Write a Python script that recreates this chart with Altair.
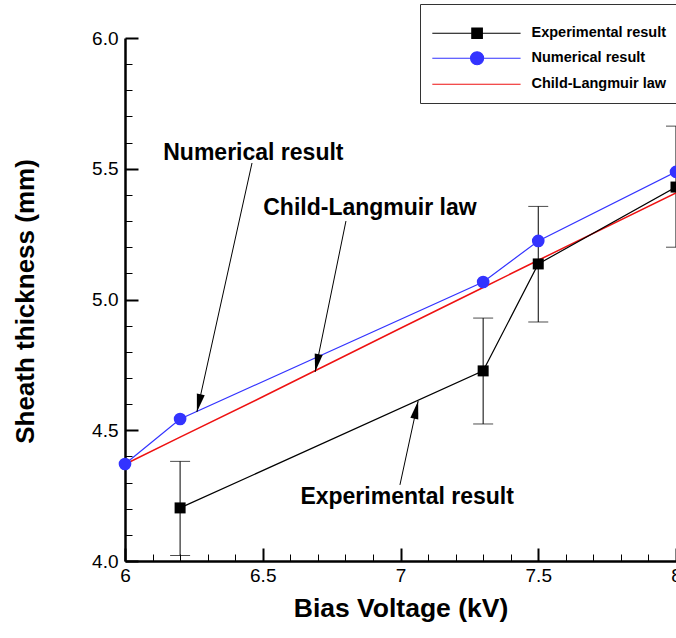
import math
import altair as alt
import pandas as pd

# ---------------- data ----------------
exp_v = [6.2, 7.3, 7.5, 8.0]
exp_s = [4.203, 4.727, 5.136, 5.430]
exp_lo = [4.021, 4.524, 4.914, 5.200]
exp_hi = [4.381, 4.929, 5.356, 5.663]

num_v = [6.0, 6.2, 7.3, 7.5, 8.0]
num_s = [4.371, 4.543, 5.067, 5.224, 5.488]

cl_v = [6.0, 6.2, 6.5, 7.0, 7.3, 7.5, 8.0]
cl_s = [4.370, 4.474, 4.628, 4.890, 5.046, 5.150, 5.408]

series = ["Experimental result", "Numerical result", "Child-Langmuir law"]
colors = ["#000000", "#3333ff", "#ee1111"]

ann_text = ["Numerical result", "Child-Langmuir law", "Experimental result"]
ann_x = [6.466, 6.889, 7.024]
ann_y = [5.533, 5.323, 4.218]
arr_x1 = [6.461, 6.802, 6.998]
arr_y1 = [5.522, 5.300, 4.291]
arr_x2 = [6.261, 6.690, 7.064]
arr_y2 = [4.570, 4.723, 4.612]

x_major = [6.0, 6.5, 7.0, 7.5, 8.0]
x_minor = [6.1, 6.2, 6.3, 6.4, 6.6, 6.7, 6.8, 6.9, 7.1, 7.2, 7.3, 7.4, 7.6, 7.7, 7.8, 7.9]
y_major = [4.0, 4.5, 5.0, 5.5, 6.0]
y_minor = [4.1, 4.2, 4.3, 4.4, 4.6, 4.7, 4.8, 4.9, 5.1, 5.2, 5.3, 5.4, 5.6, 5.7, 5.8, 5.9]

# ---------------- layout ----------------
W, H = 551, 523
FONT = "Liberation Sans"

exp_df = pd.DataFrame({"v": exp_v, "s": exp_s, "lo": exp_lo, "hi": exp_hi})
num_df = pd.DataFrame({"v": num_v, "s": num_s})
cl_df = pd.DataFrame({"v": cl_v, "s": cl_s})


def angle(x1, y1, x2, y2):
    dx = (x2 - x1) * W / 2.0
    dy_up = (y2 - y1) * H / 2.0
    return math.degrees(math.atan2(dx, dy_up)) % 360


ann_df = pd.DataFrame({
    "text": ann_text, "tx": ann_x, "ty": ann_y,
    "x1": arr_x1, "y1": arr_y1, "x2": arr_x2, "y2": arr_y2,
    "ang": [angle(a, b, c, d) for a, b, c, d in zip(arr_x1, arr_y1, arr_x2, arr_y2)],
})

xs = alt.Scale(domain=[6, 8], nice=False, zero=False)
ys = alt.Scale(domain=[4, 6], nice=False, zero=False)

# axes with labels, domain and titles (no ticks)
label_x_axis = alt.Axis(
    values=x_major, format="~g", orient="bottom", ticks=False,
    domainWidth=2.5, domainColor="black",
    labelFont=FONT, labelFontSize=19, labelColor="black", labelPadding=5,
    labelFlush=False, grid=False,
    title="Bias Voltage (kV)", titleFont=FONT, titleFontSize=26.5,
    titleFontWeight="bold", titleColor="black",
    titleX=W / 2, titleY=55, titleBaseline="alphabetic", titleAlign="center",
)
label_y_axis = alt.Axis(
    values=y_major, format=".1f", orient="left", ticks=False,
    domainWidth=2.5, domainColor="black",
    labelFont=FONT, labelFontSize=19, labelColor="black", labelPadding=7,
    labelFlush=False, grid=False,
    title="Sheath thickness (mm)", titleFont=FONT, titleFontSize=26,
    titleFontWeight="bold", titleColor="black",
    titleX=-92, titleY=263, titleBaseline="alphabetic", titleAlign="center", titleAngle=270,
)
# inward major ticks
major_x_axis = alt.Axis(
    values=x_major, orient="bottom", tickSize=alt.ExprRef("-13"), tickWidth=2,
    tickColor="black", labels=False, domain=False, grid=False, title=None,
)
major_y_axis = alt.Axis(
    values=y_major, orient="left", tickSize=alt.ExprRef("-13"), tickWidth=2,
    tickColor="black", labels=False, domain=False, grid=False, title=None,
)
# inward minor ticks
minor_x_axis = alt.Axis(
    values=x_minor, orient="bottom", tickSize=alt.ExprRef("-7"), tickWidth=1,
    tickColor="black", labels=False, domain=False, grid=False, title=None,
)
minor_y_axis = alt.Axis(
    values=y_minor, orient="left", tickSize=alt.ExprRef("-7"), tickWidth=1,
    tickColor="black", labels=False, domain=False, grid=False, title=None,
)

# red Child-Langmuir line (carries the labelled axes)
cl_line = alt.Chart(cl_df).mark_line(color=colors[2], strokeWidth=1.5).encode(
    x=alt.X("v:Q", scale=xs, axis=label_x_axis),
    y=alt.Y("s:Q", scale=ys, axis=label_y_axis),
)

# error bars (carries the minor tick axes)
err_rule = alt.Chart(exp_df).mark_rule(color="black", strokeWidth=1).encode(
    x=alt.X("v:Q", scale=xs, axis=minor_x_axis),
    y=alt.Y("lo:Q", scale=ys, axis=minor_y_axis),
    y2="hi:Q",
)
cap_lo = alt.Chart(exp_df).mark_tick(color="black", orient="horizontal", size=20, thickness=1).encode(
    x=alt.X("v:Q", scale=xs, axis=None),
    y=alt.Y("lo:Q", scale=ys, axis=None),
)
cap_hi = alt.Chart(exp_df).mark_tick(color="black", orient="horizontal", size=20, thickness=1).encode(
    x=alt.X("v:Q", scale=xs, axis=None),
    y=alt.Y("hi:Q", scale=ys, axis=None),
)

# experimental line (carries the major tick axes)
exp_line = alt.Chart(exp_df).mark_line(color="black", strokeWidth=1.2).encode(
    x=alt.X("v:Q", scale=xs, axis=major_x_axis),
    y=alt.Y("s:Q", scale=ys, axis=major_y_axis),
)
exp_pts = alt.Chart(exp_df).mark_point(shape="square", filled=True, color="black", size=121, opacity=1).encode(
    x=alt.X("v:Q", scale=xs, axis=None),
    y=alt.Y("s:Q", scale=ys, axis=None),
)
num_line = alt.Chart(num_df).mark_line(color=colors[1], strokeWidth=1.2).encode(
    x=alt.X("v:Q", scale=xs, axis=None),
    y=alt.Y("s:Q", scale=ys, axis=None),
)
num_pts = alt.Chart(num_df).mark_point(shape="circle", filled=True, color=colors[1], size=160, opacity=1).encode(
    x=alt.X("v:Q", scale=xs, axis=None),
    y=alt.Y("s:Q", scale=ys, axis=None),
)

# annotations with arrows
ann_rule = alt.Chart(ann_df).mark_rule(color="black", strokeWidth=1).encode(
    x=alt.X("x1:Q", scale=xs, axis=None),
    y=alt.Y("y1:Q", scale=ys, axis=None),
    x2="x2:Q", y2="y2:Q",
)
ann_head = alt.Chart(ann_df).mark_point(
    shape="M0,0L-0.45,2L0.45,2Z", filled=True, color="black", size=324, opacity=1
).encode(
    x=alt.X("x2:Q", scale=xs, axis=None),
    y=alt.Y("y2:Q", scale=ys, axis=None),
    angle=alt.Angle("ang:Q", scale=None),
)
ann_txt = alt.Chart(ann_df).mark_text(
    font=FONT, fontSize=23, fontWeight="bold", color="black", align="center", baseline="alphabetic"
).encode(
    x=alt.X("tx:Q", scale=xs, axis=None),
    y=alt.Y("ty:Q", scale=ys, axis=None),
    text="text:N",
)

# legend (line + marker samples as custom symbols)
leg_df = pd.DataFrame({
    "series": series,
    "v": [exp_v[0], num_v[0], cl_v[0]],
    "s": [exp_s[0], num_s[0], cl_s[0]],
})
sym_paths = [
    "M-1.1,0H12.9M5.17,-0.83H6.83V0.83H5.17Z",
    "M-1.1,0H12.9M4.97,0A1.03,1.03 0 1,0 7.03,0A1.03,1.03 0 1,0 4.97,0Z",
    "M-1.1,0H12.9",
]
leg = alt.Legend(
    title=" ", titleFontSize=8, titlePadding=2, orient="none", legendX=295, legendY=-34,
    strokeColor="#333333", fillColor="white", padding=12, cornerRadius=0,
    symbolSize=159, symbolStrokeWidth=1.2, symbolOpacity=1,
    labelFont=FONT, labelFontSize=14.5, labelFontWeight="bold", labelColor="black",
    labelOffset=85, rowPadding=8, labelLimit=300,
)
dom = series
leg_layer = alt.Chart(leg_df).mark_point(filled=True, opacity=0).encode(
    x=alt.X("v:Q", scale=xs, axis=None),
    y=alt.Y("s:Q", scale=ys, axis=None),
    fill=alt.Fill("series:N", scale=alt.Scale(domain=dom, range=colors), legend=leg),
    stroke=alt.Stroke("series:N", scale=alt.Scale(domain=dom, range=colors), legend=leg),
    shape=alt.Shape("series:N", scale=alt.Scale(domain=dom, range=sym_paths), legend=leg),
)

chart = alt.layer(
    err_rule, cap_lo, cap_hi, cl_line, exp_line, exp_pts, num_line, num_pts,
    ann_rule, ann_head, ann_txt, leg_layer,
).resolve_axis(x="independent", y="independent").properties(
    width=W, height=H,
    autosize=alt.AutoSizeParams(type="none"),
    padding={"left": 125, "top": 38, "right": 0, "bottom": 77},
    view=alt.ViewBackground(stroke="transparent", strokeWidth=0),
).configure_view(stroke="transparent", strokeWidth=0).configure_axis(
    gridColor="transparent"
).configure(background="white")

chart.save("out.html", embed_options={"renderer": "svg", "actions": False})
